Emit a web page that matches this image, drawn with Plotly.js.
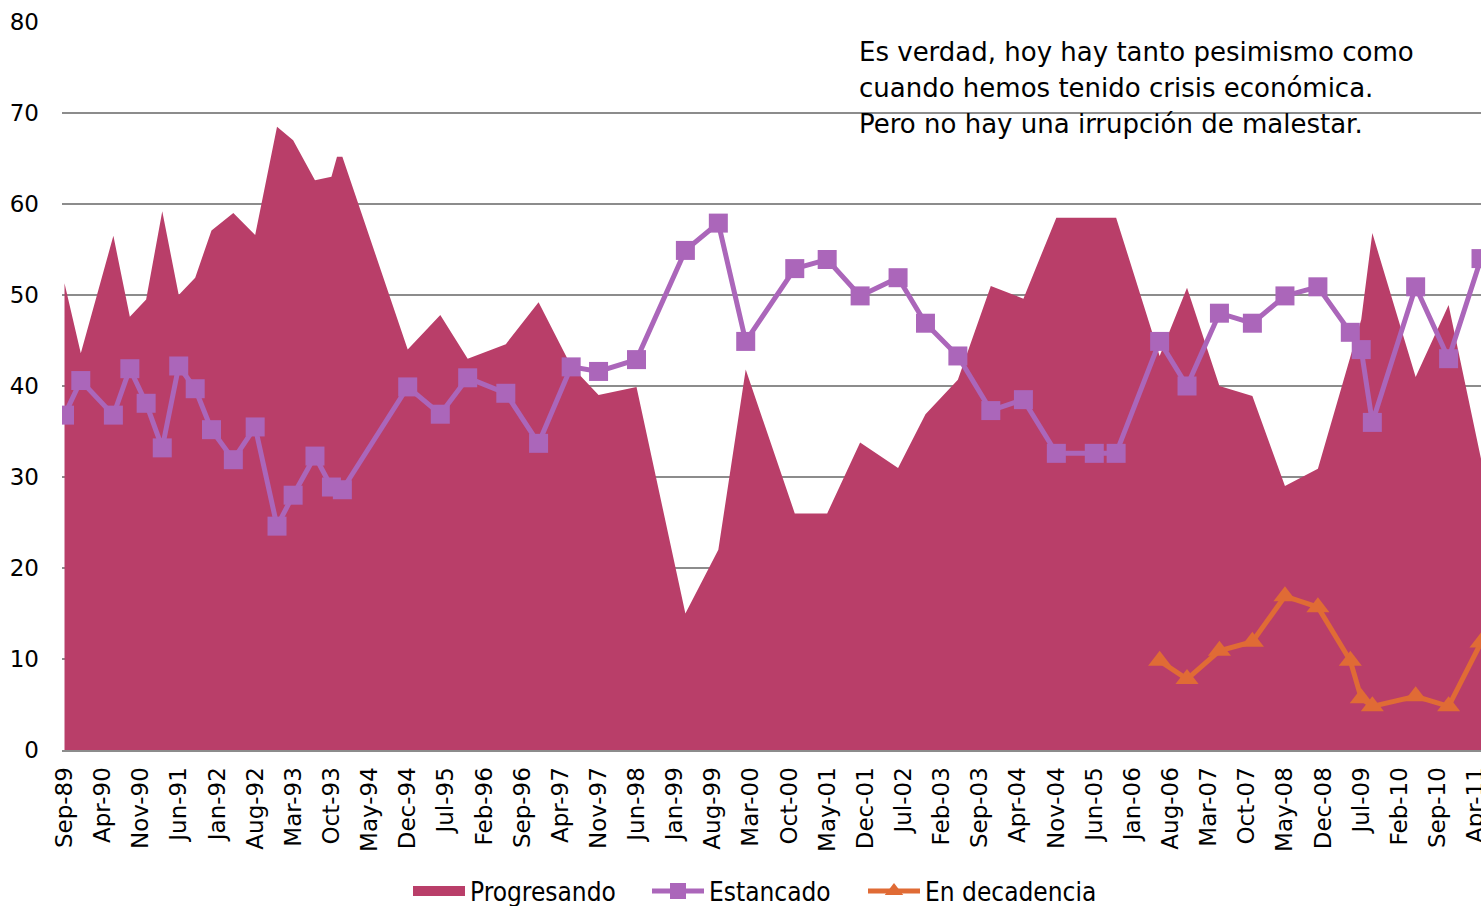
<!DOCTYPE html>
<html>
<head>
<meta charset="utf-8">
<script src="https://cdn.plot.ly/plotly-3.0.1.min.js"></script>
<style>
  html, body { margin: 0; padding: 0; background: #ffffff; }
  #chart { width: 1481px; height: 906px; }
</style>
</head>
<body>
<div id="chart"></div>
<script>
// ---- Data ----
const progDates = [
  "1989-09-01","1989-12-01","1990-06-01","1990-09-01","1990-12-01","1991-03-01",
  "1991-06-01","1991-09-01","1991-12-01","1992-04-01","1992-08-01","1992-12-01",
  "1993-03-01","1993-07-01","1993-10-01","1993-11-01","1993-12-01","1994-12-01",
  "1995-06-01","1995-11-01","1996-06-01","1996-12-01","1997-06-01","1997-11-01",
  "1998-06-01","1999-03-01","1999-09-01","2000-02-01","2000-11-01","2001-05-01",
  "2001-11-01","2002-06-01","2002-11-01","2003-05-01","2003-11-01","2004-05-01",
  "2004-11-01","2005-06-01","2005-10-01","2006-06-01","2006-11-01","2007-05-01",
  "2007-11-01","2008-05-01","2008-11-01","2009-05-01","2009-07-01","2009-09-01",
  "2010-05-01","2010-11-01","2011-05-01"
];
const progresando = [
  51.3, 43.6, 56.5, 47.6, 49.5, 59.2,
  50.0, 51.9, 57.1, 59.0, 56.6, 68.5,
  67.0, 62.6, 63.0, 65.2, 65.2, 44.0,
  47.8, 43.0, 44.6, 49.2, 42.2, 39.0,
  39.9, 15.0, 22.0, 41.8, 26.0, 26.0,
  33.8, 31.0, 36.9, 40.7, 51.0, 49.6,
  58.5, 58.5, 58.5, 43.3, 50.8, 40.0,
  38.9, 29.0, 30.9, 43.2, 47.3, 56.8,
  41.0, 48.9, 32.0
];

const estDates = [
  "1989-09-01","1989-12-01","1990-06-01","1990-09-01","1990-12-01","1991-03-01",
  "1991-06-01","1991-09-01","1991-12-01","1992-04-01","1992-08-01","1992-12-01",
  "1993-03-01","1993-07-01","1993-10-01","1993-12-01","1994-12-01","1995-06-01",
  "1995-11-01","1996-06-01","1996-12-01","1997-06-01","1997-11-01","1998-06-01",
  "1999-03-01","1999-09-01","2000-02-01","2000-11-01","2001-05-01","2001-11-01",
  "2002-06-01","2002-11-01","2003-05-01","2003-11-01","2004-05-01","2004-11-01",
  "2005-06-01","2005-10-01","2006-06-01","2006-11-01","2007-05-01","2007-11-01",
  "2008-05-01","2008-11-01","2009-05-01","2009-07-01","2009-09-01","2010-05-01",
  "2010-11-01","2011-05-01"
];
const estancado = [
  36.8, 40.6, 36.8, 41.9, 38.1, 33.2,
  42.2, 39.7, 35.2, 31.9, 35.5, 24.6,
  28.0, 32.3, 28.9, 28.6, 39.9, 36.9,
  40.9, 39.2, 33.7, 42.1, 41.6, 42.9,
  54.9, 57.9, 44.9, 52.9, 53.9, 49.9,
  51.9, 46.9, 43.3, 37.3, 38.5, 32.6,
  32.6, 32.6, 44.9, 40.0, 48.0, 46.9,
  49.9, 50.9, 45.9, 44.0, 36.0, 50.9,
  43.0, 54.0
];

const decDates = [
  "2006-06-01","2006-11-01","2007-05-01","2007-11-01","2008-05-01","2008-11-01",
  "2009-05-01","2009-07-01","2009-09-01","2010-05-01","2010-11-01","2011-05-01"
];
const decadencia = [9.8, 7.8, 10.9, 11.9, 16.9, 15.7, 9.8, 5.7, 4.8, 5.9, 4.8, 11.8];

const seriesNames = ["Progresando", "Estancado", "En decadencia"];
const noteLines = [
  "Es verdad, hoy hay tanto pesimismo como",
  "cuando hemos tenido crisis económica.",
  "Pero no hay una irrupción de malestar."
];
const yTicks = [0, 10, 20, 30, 40, 50, 60, 70, 80];

// ---- Styles ----
const FONT = "DejaVu Sans, sans-serif";
const COND = "DejaVu Sans Condensed, DejaVu Sans, sans-serif";
const cArea = "#B93E69";
const cPurple = "#AB66BA";
const cOrange = "#E06B35";
const cGrid = "#8C8C8C";

const traces = [
  {
    type: "scatter", mode: "none", name: seriesNames[0],
    x: progDates, y: progresando,
    fill: "tozeroy", fillcolor: cArea,
    showlegend: false
  },
  // legend-only entry for the area (draws no marks: no data)
  {
    type: "scatter", mode: "lines", name: seriesNames[0],
    x: [null], y: [null], legend: "legend",
    line: { color: cArea, width: 14 }
  },
  {
    type: "scatter", mode: "lines+markers", name: seriesNames[1],
    x: estDates, y: estancado, legend: "legend2",
    line: { color: cPurple, width: 5 },
    marker: { symbol: "square", size: 19, color: cPurple }
  },
  {
    type: "scatter", mode: "lines+markers", name: seriesNames[2],
    x: decDates, y: decadencia, legend: "legend3",
    line: { color: cOrange, width: 5 },
    marker: { symbol: "triangle-up", size: 20, color: cOrange }
  }
];

const noteY = [52, 88, 124];
const annotations = noteLines.map((t, i) => ({
  xref: "paper", yref: "paper",
  x: (857 - 62) / 1419, y: (750 - noteY[i]) / 728,
  xanchor: "left", yanchor: "middle",
  text: t, showarrow: false,
  font: { family: FONT, size: 26, color: "#000000" }
}));

function legendAt(px) {
  return {
    orientation: "h", x: (px - 62) / 1419, xanchor: "left",
    y: -(891 - 750) / 728, yanchor: "middle",
    font: { family: COND, size: 26, color: "#000000" },
    itemwidth: 52,
    bgcolor: "rgba(0,0,0,0)"
  };
}

const layout = {
  width: 1481, height: 906,
  margin: { l: 62, r: 0, t: 22, b: 156, pad: 0, autoexpand: false },
  paper_bgcolor: "#ffffff", plot_bgcolor: "#ffffff",
  showlegend: true,
  legend: legendAt(408),
  legend2: legendAt(647),
  legend3: legendAt(863),
  xaxis: {
    type: "date",
    range: ["1989-08-18", "2011-05-01"],
    tick0: "1989-09-01", dtick: "M7",
    tickformat: "%b-%y",
    tickangle: -90,
    ticks: "",
    ticklabelstandoff: 6,
    ticklabeloverflow: "allow",
    showgrid: false, zeroline: false,
    showline: true, linecolor: cGrid, linewidth: 2,
    tickfont: { family: FONT, size: 23, color: "#000000" },
    fixedrange: true
  },
  yaxis: {
    range: [0, 80],
    tickvals: yTicks,
    ticks: "",
    ticklabelstandoff: 22,
    showgrid: true, gridcolor: cGrid, gridwidth: 2,
    zeroline: false, showline: false,
    tickfont: { family: FONT, size: 23, color: "#000000" },
    fixedrange: true
  },
  annotations: annotations
};

Plotly.newPlot("chart", traces, layout, { displayModeBar: false, staticPlot: true });
</script>
</body>
</html>
